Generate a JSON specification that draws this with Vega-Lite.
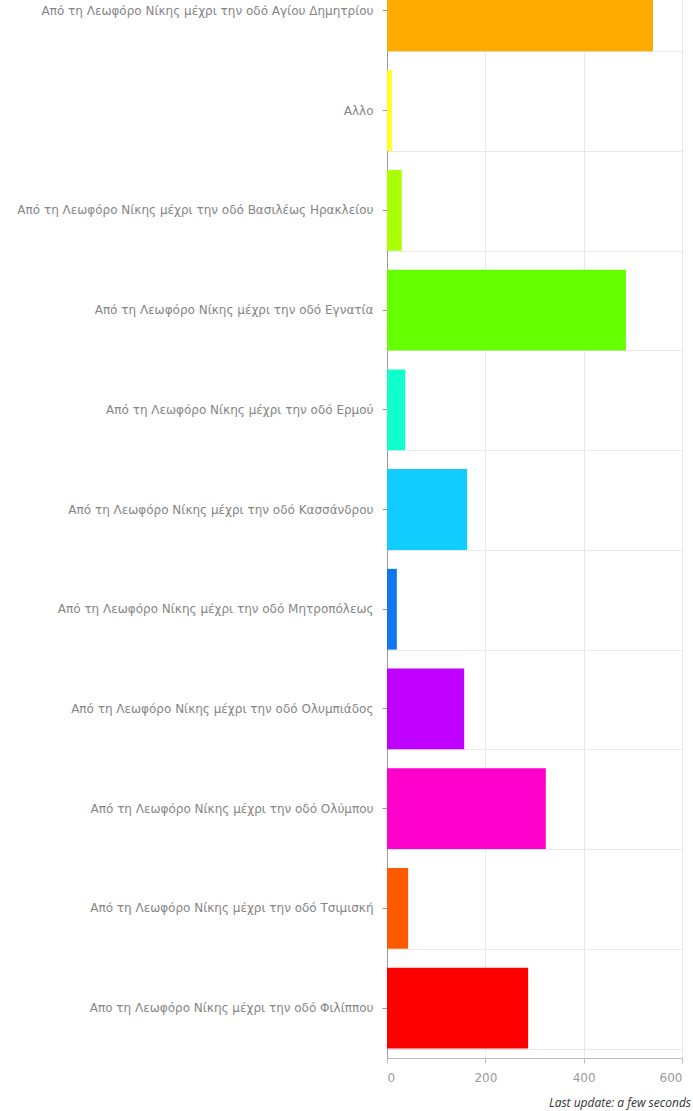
{
  "$schema": "https://vega.github.io/schema/vega-lite/v6.json",
  "autosize": {"type": "none"},
  "padding": {"left": 387, "top": -39, "right": 11, "bottom": 53},
  "width": 295,
  "height": 1097,
  "background": "white",
  "config": {"view": {"stroke": null}},
  "title": {
    "text": "Last update: a few seconds",
    "orient": "bottom",
    "anchor": "end",
    "frame": "group",
    "font": "Open Sans",
    "fontSize": 12,
    "fontStyle": "italic",
    "fontWeight": "normal",
    "color": "#333333",
    "offset": 15,
    "dx": 9
  },
  "data": {
    "values": [
      {"route": "Από τη Λεωφόρο Νίκης μέχρι την οδό Αγίου Δημητρίου", "count": 541, "color": "#ffaa00"},
      {"route": "Αλλο", "count": 10, "color": "#ffff22"},
      {"route": "Από τη Λεωφόρο Νίκης μέχρι την οδό Βασιλέως Ηρακλείου", "count": 30, "color": "#aaff00"},
      {"route": "Από τη Λεωφόρο Νίκης μέχρι την οδό Εγνατία", "count": 486, "color": "#66ff00"},
      {"route": "Από τη Λεωφόρο Νίκης μέχρι την οδό Ερμού", "count": 37, "color": "#11ffcc"},
      {"route": "Από τη Λεωφόρο Νίκης μέχρι την οδό Κασσάνδρου", "count": 163, "color": "#11ccff"},
      {"route": "Από τη Λεωφόρο Νίκης μέχρι την οδό Μητροπόλεως", "count": 20, "color": "#1177ee"},
      {"route": "Από τη Λεωφόρο Νίκης μέχρι την οδό Ολυμπιάδος", "count": 157, "color": "#c000ff"},
      {"route": "Από τη Λεωφόρο Νίκης μέχρι την οδό Ολύμπου", "count": 323, "color": "#ff00cc"},
      {"route": "Από τη Λεωφόρο Νίκης μέχρι την οδό Τσιμισκή", "count": 43, "color": "#ff5a00"},
      {"route": "Απο τη Λεωφόρο Νίκης μέχρι την οδό Φιλίππου", "count": 287, "color": "#ff0000"}
    ]
  },
  "layer": [
    {
      "mark": {"type": "bar"},
      "encoding": {
        "y": {
          "field": "route",
          "type": "nominal",
          "sort": null,
          "scale": {"paddingInner": 0.19, "paddingOuter": 0.095},
          "axis": {
            "title": null,
            "grid": false,
            "labelFont": "DejaVu Sans",
            "labelFontSize": 12,
            "labelColor": "#858585",
            "labelPadding": 9,
            "labelLimit": 400,
            "tickSize": 5,
            "tickColor": "#999999",
            "domainColor": "#9999aa",
            "domainWidth": 1
          }
        },
        "x": {
          "field": "count",
          "type": "quantitative",
          "scale": {"domain": [0, 600], "nice": false},
          "axis": {
            "title": null,
            "values": [0, 200, 400, 600],
            "grid": true,
            "gridColor": "#e8e8e8",
            "labelFont": "DejaVu Sans",
            "labelFontSize": 12,
            "labelColor": "#999999",
            "labelPadding": 9,
            "tickSize": 5,
            "tickColor": "#bbbbbb",
            "domainColor": "#bbbbbb"
          }
        },
        "color": {"field": "color", "type": "nominal", "scale": null, "legend": null}
      }
    },
    {
      "mark": {"type": "bar", "opacity": 0},
      "encoding": {
        "y": {
          "field": "route",
          "type": "nominal",
          "sort": null,
          "axis": {
            "orient": "left",
            "title": null,
            "labels": false,
            "ticks": false,
            "domain": false,
            "grid": true,
            "gridColor": "#e8e8e8",
            "tickBand": "extent"
          }
        },
        "x": {"field": "count", "type": "quantitative"}
      }
    }
  ],
  "resolve": {"axis": {"y": "independent"}}
}
